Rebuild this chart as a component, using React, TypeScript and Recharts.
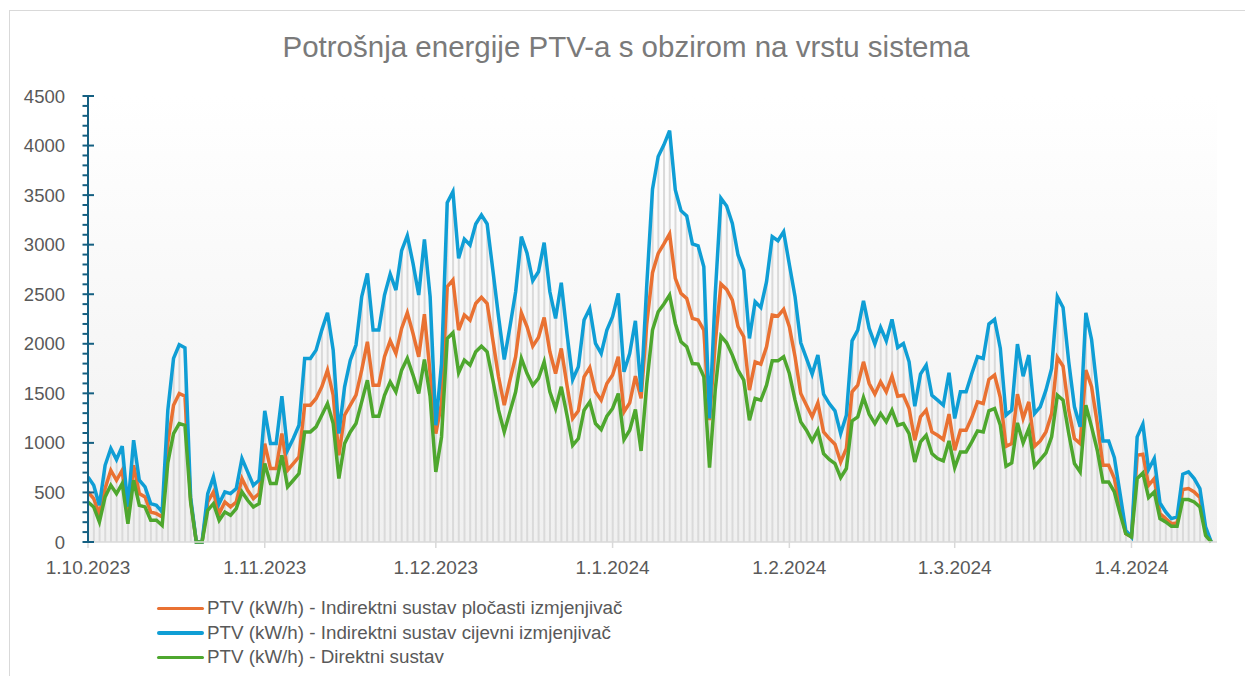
import { Bar, CartesianGrid, ComposedChart, Line, XAxis, YAxis } from 'recharts'

// Day index 0 = 1.10.2023, one point per day.
const monthTicks = [0, 31, 61, 92, 123, 152, 183]
const monthLabels = ['1.10.2023', '1.11.2023', '1.12.2023', '1.1.2024', '1.2.2024', '1.3.2024', '1.4.2024']
const yMajor = [0, 500, 1000, 1500, 2000, 2500, 3000, 3500, 4000, 4500]

const seriesNames = [
  'PTV (kW/h) - Indirektni sustav pločasti izmjenjivač',
  'PTV (kW/h) - Indirektni sustav cijevni izmjenjivač',
  'PTV (kW/h) - Direktni sustav',
]
const seriesColors = ['#E97132', '#0F9ED5', '#4EA72E']

const plocasti = [
  505, 438, 286, 539, 724, 623, 724, 236, 774, 488, 455, 303, 286, 253, 1000, 1380, 1498, 1471, 420, 0, 0, 404, 505, 286, 404,
  354, 404, 640, 522, 438, 488, 993, 741, 741, 1094, 724, 791, 859, 1380, 1380, 1448, 1566, 1734, 1481, 875, 1279, 1380, 1481, 1734, 2020,
  1582, 1582, 1869, 2030, 1902, 2155, 2313, 2104, 1869, 2299, 1700, 1094, 1400, 2576, 2643, 2138, 2290, 2239, 2407, 2468, 2407, 2037, 1667, 1380, 1633,
  1869, 2313, 2172, 1976, 2064, 2266, 1919, 1700, 1953, 1582, 1246, 1323, 1667, 1761, 1515, 1431, 1599, 1684, 1869, 1313, 1404, 1673, 1450, 2205, 2717,
  2912, 3007, 3108, 2660, 2508, 2458, 2256, 2239, 2138, 1229, 2003, 2603, 2549, 2441, 2172, 2071, 1532, 1818, 1795, 1970, 2290, 2279, 2347, 2172, 1869,
  1498, 1380, 1263, 1404, 1111, 1044, 987, 808, 943, 1515, 1582, 1818, 1599, 1492, 1616, 1515, 1673, 1471, 1481, 1347, 1027, 1263, 1330, 1111,
  1077, 1034, 1290, 926, 1128, 1128, 1256, 1414, 1397, 1640, 1684, 1458, 966, 993, 1492, 1246, 1414, 966, 1020, 1111, 1296, 1862, 1774, 1330, 1044,
  993, 1734, 1566, 1195, 774, 774, 640, 354, 84, 51, 875, 886, 572, 640, 286, 236, 185, 192, 529, 539, 505, 448, 101, 0,
]

const cijevni = [
  657, 572, 370, 774, 943, 832, 966, 354, 1027, 623, 556, 387, 370, 303, 1330, 1852, 1990, 1960, 450, 0, 0, 488, 657, 387, 505,
  488, 539, 842, 707, 572, 623, 1323, 993, 993, 1471, 926, 1044, 1178, 1852, 1852, 1936, 2138, 2313, 1936, 1094, 1566, 1835, 1987, 2475, 2710,
  2138, 2138, 2492, 2704, 2542, 2939, 3091, 2811, 2492, 3054, 2475, 1178, 1800, 3424, 3535, 2862, 3057, 2997, 3209, 3300, 3209, 2744, 2273, 1842, 2172,
  2525, 3081, 2913, 2636, 2727, 3020, 2525, 2256, 2616, 2104, 1640, 1768, 2239, 2357, 2003, 1902, 2138, 2273, 2508, 1717, 1902, 2232, 1515, 2600, 3560,
  3889, 4007, 4151, 3552, 3343, 3290, 3007, 2987, 2778, 1246, 2500, 3468, 3390, 3215, 2896, 2744, 2054, 2424, 2367, 2626, 3081, 3040, 3131, 2800, 2475,
  2010, 1852, 1694, 1886, 1492, 1397, 1323, 1094, 1279, 2030, 2138, 2434, 2155, 1997, 2165, 2030, 2246, 1963, 2003, 1818, 1370, 1694, 1785, 1481,
  1431, 1380, 1707, 1246, 1515, 1515, 1700, 1869, 1852, 2199, 2246, 1953, 1279, 1330, 1997, 1673, 1886, 1296, 1364, 1532, 1751, 2475, 2367, 1818, 1364,
  1162, 2313, 2044, 1532, 1020, 1020, 852, 488, 118, 51, 1061, 1189, 731, 842, 394, 303, 236, 253, 684, 707, 640, 539, 152, 0,
]

const direktni = [
  404, 354, 202, 455, 572, 488, 589, 185, 623, 370, 354, 219, 219, 168, 800, 1094, 1195, 1178, 400, 0, 0, 320, 387, 219, 303,
  269, 337, 505, 421, 354, 387, 791, 589, 589, 875, 556, 623, 690, 1111, 1111, 1162, 1279, 1397, 1195, 640, 993, 1111, 1195, 1414, 1633,
  1269, 1269, 1481, 1616, 1515, 1734, 1852, 1684, 1498, 1842, 1465, 707, 1060, 2054, 2111, 1707, 1835, 1785, 1919, 1976, 1919, 1633, 1330, 1111, 1313,
  1515, 1852, 1700, 1582, 1650, 1818, 1515, 1347, 1566, 1279, 976, 1044, 1330, 1414, 1195, 1135, 1269, 1347, 1498, 1034, 1128, 1337, 919, 1599, 2138,
  2323, 2401, 2492, 2205, 2020, 1970, 1801, 1795, 1667, 751, 1532, 2077, 2010, 1886, 1734, 1633, 1229, 1448, 1431, 1582, 1828, 1828, 1869, 1700, 1431,
  1212, 1128, 1020, 1128, 892, 832, 791, 650, 741, 1222, 1263, 1458, 1290, 1195, 1296, 1212, 1330, 1178, 1195, 1094, 808, 1010, 1077, 892,
  842, 818, 1020, 751, 909, 909, 1010, 1121, 1111, 1323, 1347, 1178, 764, 798, 1202, 1000, 1145, 764, 832, 899, 1061, 1481, 1431, 1094, 791,
  707, 1380, 1162, 926, 606, 606, 505, 286, 84, 51, 640, 697, 448, 505, 236, 202, 158, 158, 428, 428, 404, 354, 67, 0,
]

const rows = cijevni.map((v, i) => ({
  day: i,
  stripe: v,
  plocasti: plocasti[i],
  cijevni: v,
  direktni: direktni[i],
}))

const AXIS_BLUE = '#156082'
const LABEL = '#595959'
const FONT = '"Liberation Sans", Arial, sans-serif'

const yAllTicks = Array.from({ length: 46 }, (_, i) => i * 100)

function YTick(props: any) {
  const { x, y, payload } = props
  const major = yMajor.includes(payload.value)
  return (
    <g>
      <line x1={x - 5.5} x2={major ? x + 6 : x} y1={y} y2={y} stroke={AXIS_BLUE} strokeWidth={2} />
      {major && (
        <text x={x - 23} y={y} dy={6.5} textAnchor="end" fill={LABEL} fontSize={18.5} fontFamily={FONT}>
          {payload.value}
        </text>
      )}
    </g>
  )
}

export default function App() {
  return (
    <div style={{ position: 'absolute', left: 0, top: 0, width: 1245, height: 676, overflow: 'hidden', background: '#fff' }}>
      <div
        style={{
          position: 'absolute',
          left: 9,
          top: 10,
          width: 1260,
          height: 700,
          border: '1px solid #d9d9d9',
        }}
      />
      <div
        style={{
          position: 'absolute',
          left: 0,
          top: 30,
          width: 1252,
          textAlign: 'center',
          fontFamily: FONT,
          fontSize: 29.5,
          color: '#7a7a7a',
        }}
      >
        Potrošnja energije PTV-a s obzirom na vrstu sistema
      </div>
      <div style={{ position: 'absolute', left: 0, top: 0 }}>
        <ComposedChart
          width={1245}
          height={676}
          data={rows}
          margin={{ top: 96, right: 28, bottom: 104, left: 0 }}
        >
          <defs>
            <linearGradient id="plotBg" x1="0" y1="0" x2="0" y2="1">
              <stop offset="0%" stopColor="#ffffff" />
              <stop offset="100%" stopColor="#f0f0f0" />
            </linearGradient>
          </defs>
          <CartesianGrid horizontal={false} vertical={false} fill="url(#plotBg)" stroke="none" />
          <XAxis
            dataKey="day"
            type="number"
            domain={[0, 198]}
            ticks={monthTicks}
            tickFormatter={(v: number) => monthLabels[monthTicks.indexOf(v)] ?? ''}
            interval={0}
            height={30}
            stroke="#d9d9d9"
            strokeWidth={1.5}
            tickSize={6}
            tickMargin={13}
            tick={{ fill: LABEL, fontSize: 19, fontFamily: FONT }}
            allowDataOverflow
          />
          <YAxis
            type="number"
            domain={[0, 4500]}
            ticks={yAllTicks}
            interval={0}
            width={88}
            tickSize={0}
            tickMargin={0}
            tickLine={false}
            axisLine={{ stroke: AXIS_BLUE, strokeWidth: 2 }}
            tick={<YTick />}
          />
          <Bar dataKey="stripe" barSize={2} fill="#dadada" isAnimationActive={false} legendType="none" />
          <Line
            dataKey="plocasti"
            name={seriesNames[0]}
            stroke={seriesColors[0]}
            strokeWidth={3.5}
            dot={false}
            type="linear"
            isAnimationActive={false}
          />
          <Line
            dataKey="cijevni"
            name={seriesNames[1]}
            stroke={seriesColors[1]}
            strokeWidth={3.5}
            dot={false}
            type="linear"
            isAnimationActive={false}
          />
          <Line
            dataKey="direktni"
            name={seriesNames[2]}
            stroke={seriesColors[2]}
            strokeWidth={3.5}
            dot={false}
            type="linear"
            isAnimationActive={false}
          />
        </ComposedChart>
      </div>
      <div style={{ position: 'absolute', left: 157, top: 596, fontFamily: FONT, fontSize: 18.8, color: LABEL }}>
        {seriesNames.map((name, i) => (
          <div key={name} style={{ display: 'flex', alignItems: 'center', height: 24.5 }}>
            <span style={{ display: 'inline-block', width: 47, height: 3.5, background: seriesColors[i], marginRight: 3, borderRadius: 2 }} />
            <span>{name}</span>
          </div>
        ))}
      </div>
    </div>
  )
}
